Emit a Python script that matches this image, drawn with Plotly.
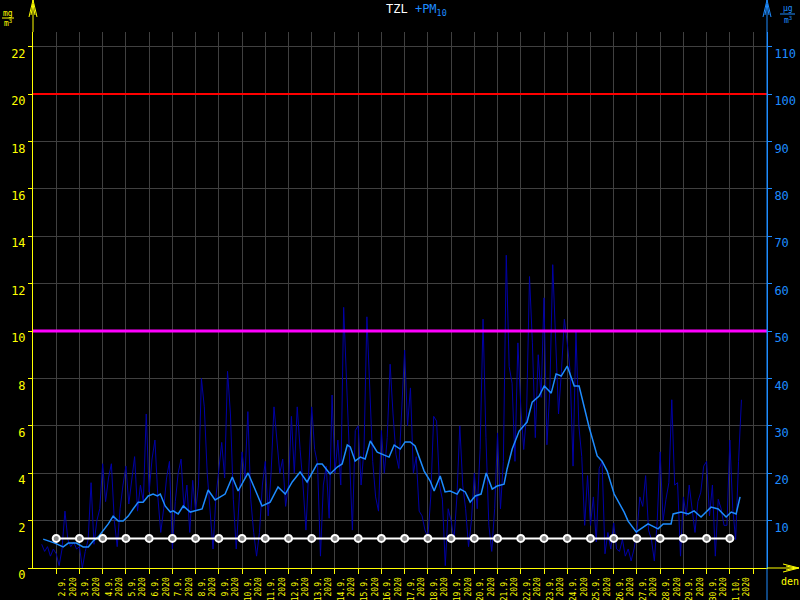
import plotly.graph_objects as go
import pandas as pd

START = pd.Timestamp("2020-09-01")

# ---- data (mg/m3) ----
# smoothed TZL line: day offset since 1.9.2020 00:00, value
avg_days = [0.44, 0.94, 1.30, 1.52, 1.86, 2.16, 2.38, 2.59, 2.81, 3.02, 3.24, 3.45, 3.67, 3.88,
            4.10, 4.31, 4.53, 4.74, 4.96, 5.17, 5.35, 5.48, 5.69, 5.91, 6.03, 6.25, 6.47, 6.77,
            7.28, 7.54, 7.84, 8.27, 8.58, 8.83, 9.26, 9.86, 10.21, 10.55, 10.86, 11.16, 11.50,
            11.80, 12.23, 12.45, 12.79, 13.10, 13.31, 13.53, 13.66, 13.87, 14.09, 14.30, 14.52,
            14.82, 15.03, 15.33, 15.55, 15.81, 16.02, 16.24, 16.45, 16.84, 17.10, 17.27, 17.53,
            17.74, 17.96, 18.26, 18.39, 18.61, 18.82, 19.04, 19.29, 19.51, 19.77, 19.98, 20.28,
            20.41, 20.63, 20.93, 21.27, 21.49, 21.79, 22.01, 22.31, 22.52, 22.74, 23.00, 23.30,
            23.51, 23.94, 24.29, 24.50, 24.72, 25.02, 25.32, 25.45, 25.62, 25.97, 26.48, 26.91,
            27.13, 27.47, 27.56, 27.90, 28.21, 28.46, 28.76, 29.19, 29.50, 29.84, 30.06, 30.27,
            30.44]
avg_vals = [1.22, 1.05, 0.89, 1.05, 1.05, 0.89, 0.89, 1.14, 1.31, 1.56, 1.86, 2.19, 1.98, 1.98,
            2.19, 2.49, 2.78, 2.78, 3.04, 3.12, 3.04, 3.12, 2.62, 2.36, 2.41, 2.28, 2.62, 2.36,
            2.49, 3.29, 2.87, 3.12, 3.84, 3.25, 4.01, 2.62, 2.78, 3.42, 3.12, 3.63, 4.05,
            3.63, 4.39, 4.39, 3.97, 4.26, 4.39, 5.19, 5.11, 4.51, 4.68, 4.60, 5.36,
            4.89, 4.81, 4.68, 5.19, 5.02, 5.32, 5.32, 5.15, 4.09, 3.67, 3.25, 3.88,
            3.21, 3.25, 3.12, 3.33, 3.21, 2.78, 3.04, 3.12, 4.01, 3.33, 3.46, 3.54,
            4.18, 5.02, 5.78, 6.16, 7.00, 7.26, 7.68, 7.38, 8.19, 8.10, 8.52, 7.68,
            7.68, 5.95, 4.73, 4.51, 4.09, 3.12, 2.57, 2.36, 1.98, 1.52, 1.86, 1.65,
            1.86, 1.86, 2.28, 2.36, 2.28, 2.41, 2.15, 2.57, 2.49, 2.15, 2.36, 2.28,
            3.00]

# raw TZL series, every 3 hours from 1.9.2020 09:00
raw_start = "2020-09-01 09:00"
raw_vals = [
    1.0, 0.7, 0.9, 0.5, 0.8,
    0.6, 0.1, 0.8, 2.4, 1.2, 0.9, 1.1, 0.8,
    0.9, 0.0, 0.7, 1.2, 3.6, 1.0, 2.0, 2.5,
    4.4, 2.8, 3.8, 4.4, 2.0, 0.9, 2.5, 3.5,
    4.3, 2.7, 3.6, 4.7, 2.4, 3.5, 2.8, 6.5,
    3.2, 4.6, 5.4, 3.0, 1.5, 2.5, 3.8, 4.5,
    0.8, 2.8, 4.0, 4.6, 2.5, 3.5, 1.5, 3.7,
    2.4, 3.5, 8.0, 6.8, 4.0, 2.2, 0.8, 3.0,
    4.3, 5.3, 3.8, 8.3, 6.5, 2.9, 0.8, 3.0,
    4.9, 3.8, 6.6, 2.9, 1.5, 0.5, 1.5, 3.5,
    4.5, 2.2, 4.0, 6.8, 5.5, 4.0, 4.6, 2.6,
    3.5, 6.4, 4.0, 6.8, 5.0, 3.5, 1.6, 4.0,
    6.8, 5.0, 4.4, 0.5, 3.5, 4.3, 2.1, 7.3,
    4.0, 5.4, 3.5, 11.0, 8.0, 4.3, 1.6, 5.8,
    6.0, 3.5, 5.0, 10.6, 7.8, 4.5, 3.0, 2.4,
    5.8, 4.0, 5.5, 8.6, 6.5, 4.8, 4.2, 6.5,
    9.2, 6.0, 7.6, 4.0, 4.7, 2.4, 2.2, 1.6,
    1.3, 3.0, 6.4, 6.2, 3.5, 2.9, 0.1, 2.5,
    2.0, 1.2, 3.0, 6.0, 3.5, 2.5, 0.9, 2.0,
    4.0, 2.5, 5.0, 10.5, 5.5, 1.8, 0.7, 2.5,
    5.7, 2.5, 4.5, 13.2, 8.5, 7.8, 4.5, 9.5,
    6.8, 5.0, 6.5, 12.3, 9.5, 5.5, 9.0, 7.2,
    11.4, 5.2, 7.5, 12.8, 9.2, 6.5, 8.3, 10.5,
    9.5, 8.3, 4.3, 10.0, 6.0, 4.7, 1.8, 3.9,
    1.8, 3.0, 1.1, 4.2, 4.5, 0.6, 1.5, 0.8,
    1.9, 0.8, 0.7, 1.2, 0.5, 0.8, 0.3, 0.8,
    1.5, 3.0, 2.6, 3.9, 1.6, 1.2, 0.3, 2.0,
    4.9, 2.0, 2.9, 3.6, 7.1, 3.5, 3.6, 0.5,
    3.0, 2.2, 3.5, 2.5, 1.5, 2.8, 3.2, 4.3,
    4.5, 2.2, 3.5, 0.5, 2.9, 2.5, 1.8, 1.8,
    5.4, 2.5, 1.2, 4.5, 7.1,
]

# daily points (white line), at midnight 2.9. .. 1.10.
daily_vals = [1.25, 1.25, 1.25, 1.25, 1.25, 1.25, 1.25, 1.25, 1.25, 1.25,
              1.25, 1.25, 1.25, 1.25, 1.25, 1.25, 1.25, 1.25, 1.25, 1.25,
              1.25, 1.25, 1.25, 1.25, 1.25, 1.25, 1.25, 1.25, 1.25, 1.25]

day_labels = ["2.9.", "3.9.", "4.9.", "5.9.", "6.9.", "7.9.", "8.9.", "9.9.", "10.9.", "11.9.",
              "12.9.", "13.9.", "14.9.", "15.9.", "16.9.", "17.9.", "18.9.", "19.9.", "20.9.",
              "21.9.", "22.9.", "23.9.", "24.9.", "25.9.", "26.9.", "27.9.", "28.9.", "29.9.",
              "30.9.", "1.10."]
year_label = "2020"

limit_red = 20
limit_magenta = 10
left_max = 22.62
right_factor = 5  # ug/m3 axis = 5x

# ---- colours / fonts ----
YEL = "#ffff00"
BLUE = "#1e8cff"
DARK = "#0000a8"
GRID = "#404040"
FONT = "DejaVu Sans Mono"

avg_x = [START + pd.Timedelta(days=d) for d in avg_days]
raw_x = pd.date_range(raw_start, periods=len(raw_vals), freq="3h")
daily_x = [START + pd.Timedelta(days=i + 1) for i in range(len(daily_vals))]

fig = go.Figure()
fig.add_trace(go.Scatter(x=raw_x, y=raw_vals, mode="lines",
                         line=dict(color=DARK, width=1), hoverinfo="skip"))
fig.add_trace(go.Scatter(x=avg_x, y=avg_vals, mode="lines",
                         line=dict(color=BLUE, width=1.5), hoverinfo="skip"))
fig.add_trace(go.Scatter(x=daily_x, y=daily_vals, mode="lines+markers",
                         line=dict(color="white", width=2),
                         marker=dict(symbol="circle", size=7, color="#8a8a8a",
                                     line=dict(color="white", width=2)),
                         hoverinfo="skip"))
# dummy trace for right axis
fig.add_trace(go.Scatter(x=[START], y=[None], yaxis="y2", showlegend=False))

W, H = 800, 600
L, R, T, B = 33, 33, 32, 32
def px(x):
    return (x - L) / (W - L - R)
def py(y):
    return (H - B - y) / (H - T - B)

tickvals = [START + pd.Timedelta(hours=12) + pd.Timedelta(days=i + 1) for i in range(len(day_labels))]
ticktext = [f"{d}<br>{year_label}" for d in day_labels]
minor_vals = [START + pd.Timedelta(days=i + 1) for i in range(len(day_labels) + 1)]

fig.update_layout(
    width=W, height=H, showlegend=False,
    paper_bgcolor="black", plot_bgcolor="black",
    margin=dict(l=L, r=R, t=T, b=B, pad=0, autoexpand=False),
    font=dict(family=FONT, color=YEL),
    xaxis=dict(
        type="date", automargin=False,
        range=[START, START + pd.Timedelta(days=31.6)],
        tickmode="array", tickvals=tickvals, ticktext=ticktext,
        ticks="", showgrid=False, zeroline=False,
        tickangle=-90, tickfont=dict(family=FONT, size=8, color=YEL),
        ticklabelstandoff=5,
        showline=True, linecolor=YEL, linewidth=1,
        minor=dict(tickmode="array", tickvals=minor_vals, ticks="outside", ticklen=5,
                   tickcolor=YEL, showgrid=True, gridcolor=GRID, gridwidth=1),
    ),
    yaxis=dict(
        automargin=False,
        range=[0, left_max], tick0=0, dtick=2,
        showgrid=True, gridcolor=GRID, gridwidth=1, zeroline=False,
        showline=True, linecolor=YEL, linewidth=1,
        ticks="outside", ticklen=4, tickcolor=YEL,
        tickfont=dict(family=FONT, size=12, color=YEL),
        ticklabelshift=7,
    ),
    yaxis2=dict(
        automargin=False,
        overlaying="y", side="right",
        range=[0, left_max * right_factor],
        tickmode="array", tickvals=[10, 20, 30, 40, 50, 60, 70, 80, 90, 100, 110],
        showgrid=False, zeroline=False,
        showline=True, linecolor=BLUE, linewidth=1,
        ticks="outside", ticklen=4, tickcolor=BLUE,
        tickfont=dict(family=FONT, size=12, color=BLUE),
        ticklabelshift=7,
    ),
)

shapes = [
    dict(type="line", xref="paper", yref="y", x0=0, x1=1, y0=limit_red, y1=limit_red,
         line=dict(color="#ff0000", width=2)),
    dict(type="line", xref="paper", yref="y", x0=0, x1=1, y0=limit_magenta, y1=limit_magenta,
         line=dict(color="#ff00ff", width=3)),
    # axis extensions and arrows
    dict(type="line", xref="paper", yref="paper", x0=px(33), x1=px(33), y0=py(32), y1=py(0),
         line=dict(color=YEL, width=1)),
    dict(type="path", xref="paper", yref="paper",
         path=f"M {px(29)},{py(17)} L {px(33)},{py(0)} L {px(37)},{py(17)} "
              f"M {px(31)},{py(15)} L {px(33)},{py(4)} L {px(35)},{py(15)}",
         line=dict(color=YEL, width=1)),
    dict(type="line", xref="paper", yref="paper", x0=px(767), x1=px(767), y0=py(600), y1=py(0),
         line=dict(color=BLUE, width=1)),
    dict(type="path", xref="paper", yref="paper",
         path=f"M {px(763)},{py(17)} L {px(767)},{py(0)} L {px(771)},{py(17)} "
              f"M {px(765)},{py(15)} L {px(767)},{py(4)} L {px(769)},{py(15)}",
         line=dict(color=BLUE, width=1)),
    dict(type="line", xref="paper", yref="paper", x0=px(767), x1=px(799), y0=py(568), y1=py(568),
         line=dict(color=YEL, width=1)),
    dict(type="path", xref="paper", yref="paper",
         path=f"M {px(783)},{py(564)} L {px(799)},{py(568)} L {px(783)},{py(572)} "
              f"M {px(786)},{py(566)} L {px(796)},{py(568)} L {px(786)},{py(570)}",
         line=dict(color=YEL, width=1)),
    # unit fraction bars
    dict(type="line", xref="paper", yref="paper", x0=px(2), x1=px(14), y0=py(18), y1=py(18),
         line=dict(color=YEL, width=1)),
    dict(type="line", xref="paper", yref="paper", x0=px(780), x1=px(795), y0=py(14), y1=py(14),
         line=dict(color=BLUE, width=1)),
]
fig.update_layout(shapes=shapes)

ann = [
    dict(text=f"TZL <span style='color:{BLUE}'>+PM<sub>10</sub></span>", x=px(416), y=py(10),
         font=dict(family=FONT, size=12, color="white")),
    dict(text="mg", x=px(8), y=py(13), font=dict(family=FONT, size=8, color=YEL)),
    dict(text="m<sup>3</sup>", x=px(8), y=py(23), font=dict(family=FONT, size=8, color=YEL)),
    dict(text="µg", x=px(788), y=py(9), font=dict(family=FONT, size=8, color=BLUE)),
    dict(text="m<sup>3</sup>", x=px(788), y=py(20), font=dict(family=FONT, size=8, color=BLUE)),
    dict(text="den", x=px(790), y=py(581), font=dict(family=FONT, size=10, color=YEL)),
]
for a in ann:
    a.update(xref="paper", yref="paper", showarrow=False, xanchor="center", yanchor="middle")
fig.update_layout(annotations=ann)

fig.write_html("out.html", config={"displayModeBar": False},
               post_script="document.body.style.margin='0';document.body.style.overflow='hidden';")
